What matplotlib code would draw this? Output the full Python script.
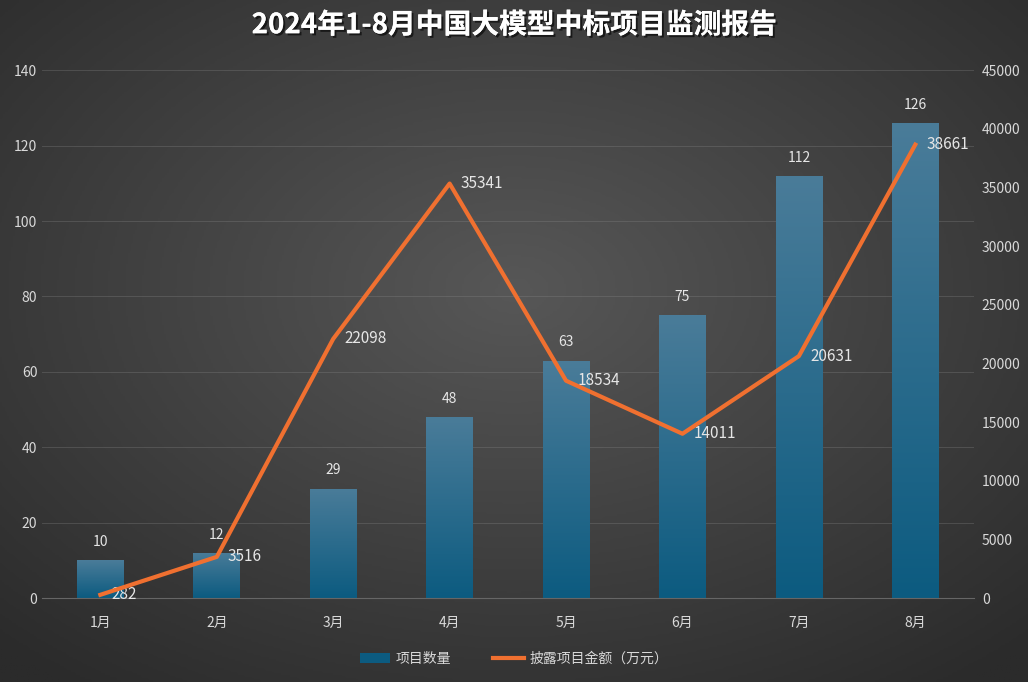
import matplotlib
matplotlib.use('Agg')
import matplotlib.pyplot as plt
import matplotlib.patheffects as pe
from matplotlib.colors import LinearSegmentedColormap
import numpy as np

plt.rcParams['font.family'] = ['Noto Sans CJK SC', 'DejaVu Sans']

months = ['1月', '2月', '3月', '4月', '5月', '6月', '7月', '8月']
counts = [10, 12, 29, 48, 63, 75, 112, 126]
amounts = [282, 3516, 22098, 35341, 18534, 14011, 20631, 38661]

fig = plt.figure(figsize=(10.28, 6.82), dpi=100)

# radial gradient background
bg = fig.add_axes([0, 0, 1, 1])
yy, xx = np.mgrid[-1:1:300j, -1:1:450j]
r = np.sqrt(xx ** 2 + (yy + 0.15) ** 2)
bg_cmap = LinearSegmentedColormap.from_list('bg', ['#575757', '#2b2b2b'])
bg.imshow(r, cmap=bg_cmap, aspect='auto', extent=[0, 1, 0, 1], vmin=0, vmax=1.45)
bg.axis('off')

ax = fig.add_axes([0.041, 0.123, 0.906, 0.774])
ax.patch.set_alpha(0)
x = np.arange(len(months))
w = 0.4
bar_cmap = LinearSegmentedColormap.from_list('bar', ['#0c5b80', '#4a7c99'])
grad = np.linspace(0, 1, 256).reshape(-1, 1)
bars = ax.bar(x, counts, width=w, color='none', label='项目数量')
for b in bars:
    x0, y0 = b.get_x(), b.get_y()
    im = ax.imshow(grad, cmap=bar_cmap, aspect='auto', origin='lower',
                   extent=[x0, x0 + b.get_width(), y0, y0 + b.get_height()], zorder=2)
    im.set_clip_path(b)
for xi, c in zip(x, counts):
    ax.text(xi, c + 3, str(c), ha='center', va='bottom', color='#e6e6e6', fontsize=10)

ax.set_xlim(-0.5, len(months) - 0.5)
ax.set_ylim(0, 140)
ax.set_yticks(range(0, 141, 20))
ax.set_xticks(x)
ax.set_xticklabels(months)
ax.grid(axis='y', color='#8a8a8a', alpha=0.3, linewidth=0.7)
ax.set_axisbelow(True)
for s in ax.spines.values():
    s.set_visible(False)
ax.spines['bottom'].set_visible(True)
ax.spines['bottom'].set_color('#666666')
ax.tick_params(colors='#d9d9d9', length=0, labelsize=10)
ax.tick_params(axis='x', pad=13)

ax2 = ax.twinx()
line, = ax2.plot(x, amounts, color='#f07030', linewidth=3, label='披露项目金额（万元）', zorder=5)
ax2.set_ylim(0, 45000)
ax2.set_yticks(range(0, 45001, 5000))
for s in ax2.spines.values():
    s.set_visible(False)
ax2.tick_params(colors='#d9d9d9', length=0, labelsize=10, pad=6)
for xi, a in zip(x, amounts):
    ax2.annotate(str(a), (xi, a), xytext=(8, 0), textcoords='offset points',
                 ha='left', va='center', color='#e6e6e6', fontsize=11)

handles = [bars, line]
leg = fig.legend(handles, ['项目数量', '披露项目金额（万元）'], loc='lower center',
                 bbox_to_anchor=(0.5, 0.005), ncol=2, frameon=False, fontsize=10,
                 labelcolor='#d9d9d9', handlelength=2.2, handletextpad=0.4, columnspacing=3)
leg.legend_handles[0].set_facecolor('#0c5b80')

fig.text(0.5, 0.963, '2024年1-8月中国大模型中标项目监测报告', ha='center', va='center',
         color='white', fontsize=20, fontweight='bold',
         path_effects=[pe.withSimplePatchShadow(offset=(1.5, -1.5), shadow_rgbFace='black', alpha=0.6), pe.Normal()])

fig.savefig('out.png', dpi=100)
